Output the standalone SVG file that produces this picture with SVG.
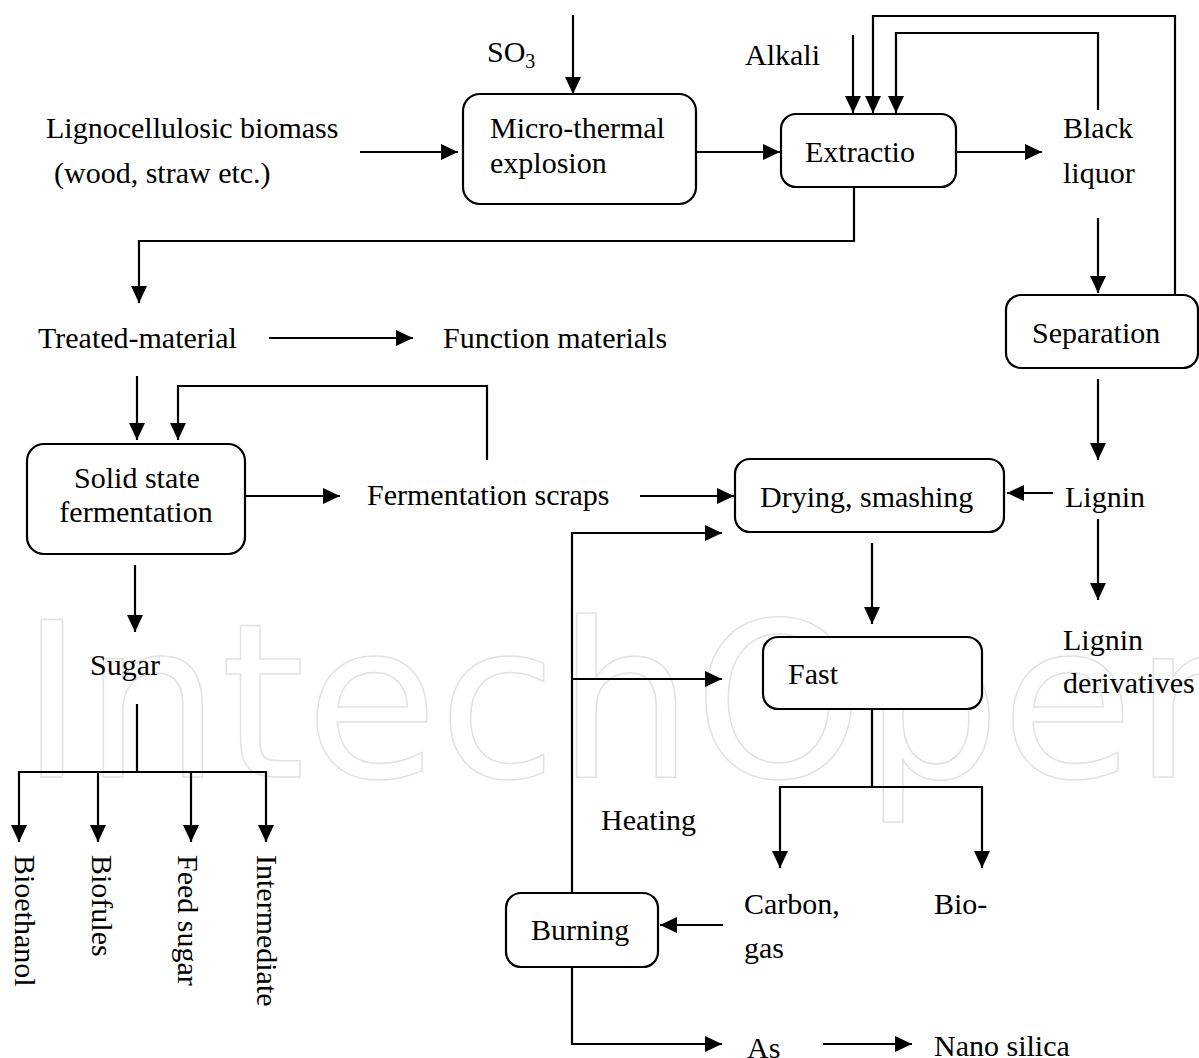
<svg xmlns="http://www.w3.org/2000/svg" width="1199" height="1058" viewBox="0 0 1199 1058">
<style>
  text { font-family: "Liberation Serif", "Times New Roman", serif; font-size: 30px; fill: #000; }
  .box { fill: #fff; stroke: #000; stroke-width: 2.2; }
  .c { fill: none; stroke: #000; stroke-width: 2.2; }
  .a { marker-end: url(#arr); }
  .wm { font-family: "DejaVu Sans", sans-serif; font-size: 216px; fill: none; stroke: #e2e2e2; stroke-width: 1.5; }
</style>
<defs>
  <marker id="arr" markerUnits="userSpaceOnUse" markerWidth="17" markerHeight="16" refX="17" refY="8" orient="auto">
    <path d="M0,0 L17,8 L0,16 Z" fill="#000"/>
  </marker>
</defs>
<rect width="1199" height="1058" fill="#fff"/>
<g id="watermark"><text class="wm" x="20" y="777">IntechOpen</text></g>

<g id="connectors">
  <path class="c a" d="M573,15 V94"/>
  <path class="c a" d="M360,152 H458"/>
  <path class="c a" d="M696,152 H780"/>
  <path class="c a" d="M853,35 V113"/>
  <path class="c a" d="M1175,295 V16 H873 V113"/>
  <path class="c a" d="M1098,110 V33 H896 V113"/>
  <path class="c a" d="M956,152 H1042"/>
  <path class="c a" d="M854,187 V241 H139 V303"/>
  <path class="c a" d="M1098,218 V293"/>
  <path class="c a" d="M269,338 H413"/>
  <path class="c a" d="M137,376 V440"/>
  <path class="c a" d="M487,460 V386 H178 V440"/>
  <path class="c a" d="M245,496 H340"/>
  <path class="c a" d="M640,496 H734"/>
  <path class="c a" d="M1053,493 H1007"/>
  <path class="c a" d="M1098,379 V460"/>
  <path class="c a" d="M1098,519 V600"/>
  <path class="c a" d="M872,543 V624"/>
  <path class="c" d="M872,709 V787 M780,787 H982"/>
  <path class="c a" d="M780,786 V868"/>
  <path class="c a" d="M982,786 V868"/>
  <path class="c a" d="M572,893 V533 H722"/>
  <path class="c a" d="M572,679 H722"/>
  <path class="c a" d="M723,925 H660"/>
  <path class="c a" d="M572,967 V1044 H722"/>
  <path class="c a" d="M823,1044 H912"/>
  <path class="c a" d="M135,565 V632"/>
  <path class="c" d="M137,704 V772 M19,772 H266"/>
  <path class="c a" d="M19,771 V842"/>
  <path class="c a" d="M98,771 V842"/>
  <path class="c a" d="M191,771 V842"/>
  <path class="c a" d="M266,771 V842"/>
</g>

<g id="so3"><text x="487" y="62">SO<tspan font-size="20" dy="6">3</tspan></text></g>
<g id="alkali"><text x="745" y="65">Alkali</text></g>
<g id="biomass"><text x="46" y="138">Lignocellulosic biomass</text><text x="54" y="183">(wood, straw etc.)</text></g>
<g id="micro-thermal"><rect class="box" x="463" y="94" width="233" height="110" rx="17"/><text x="490" y="138">Micro-thermal</text><text x="490" y="173">explosion</text></g>
<g id="extraction"><rect class="box" x="781" y="114" width="175" height="73" rx="15"/><text x="805" y="162">Extractio</text></g>
<g id="black-liquor"><text x="1063" y="138">Black</text><text x="1063" y="183">liquor</text></g>
<g id="separation"><rect class="box" x="1006" y="295" width="192" height="73" rx="15"/><text x="1032" y="343">Separation</text></g>
<g id="treated-material"><text x="38" y="348">Treated-material</text></g>
<g id="function-materials"><text x="443" y="348">Function materials</text></g>
<g id="solid-state"><rect class="box" x="27" y="444" width="218" height="110" rx="17"/><text x="137" y="488" text-anchor="middle">Solid state</text><text x="136" y="522" text-anchor="middle">fermentation</text></g>
<g id="fermentation-scraps"><text x="367" y="505">Fermentation scraps</text></g>
<g id="drying"><rect class="box" x="735" y="459" width="269" height="73" rx="15"/><text x="760" y="507">Drying, smashing</text></g>
<g id="lignin"><text x="1065" y="507">Lignin</text></g>
<g id="lignin-derivatives"><text x="1063" y="650">Lignin</text><text x="1063" y="693">derivatives</text></g>
<g id="fast"><rect class="box" x="763" y="637" width="219" height="72" rx="15"/><text x="788" y="684">Fast</text></g>
<g id="heating"><text x="601" y="830">Heating</text></g>
<g id="carbon"><text x="744" y="914">Carbon,</text><text x="744" y="958">gas</text></g>
<g id="bio"><text x="934" y="914">Bio-</text></g>
<g id="burning"><rect class="box" x="506" y="893" width="152" height="74" rx="15"/><text x="531" y="940">Burning</text></g>
<g id="as"><text x="747" y="1058">As</text></g>
<g id="nano-silica"><text x="934" y="1056">Nano silica</text></g>
<g id="sugar"><text x="90" y="675">Sugar</text></g>
<g id="bioethanol"><text transform="translate(15,855) rotate(90)">Bioethanol</text></g>
<g id="biofules"><text transform="translate(92,855) rotate(90)">Biofules</text></g>
<g id="feed-sugar"><text transform="translate(178,855) rotate(90)">Feed sugar</text></g>
<g id="intermediate"><text transform="translate(257,855) rotate(90)">Intermediate</text></g>
</svg>
